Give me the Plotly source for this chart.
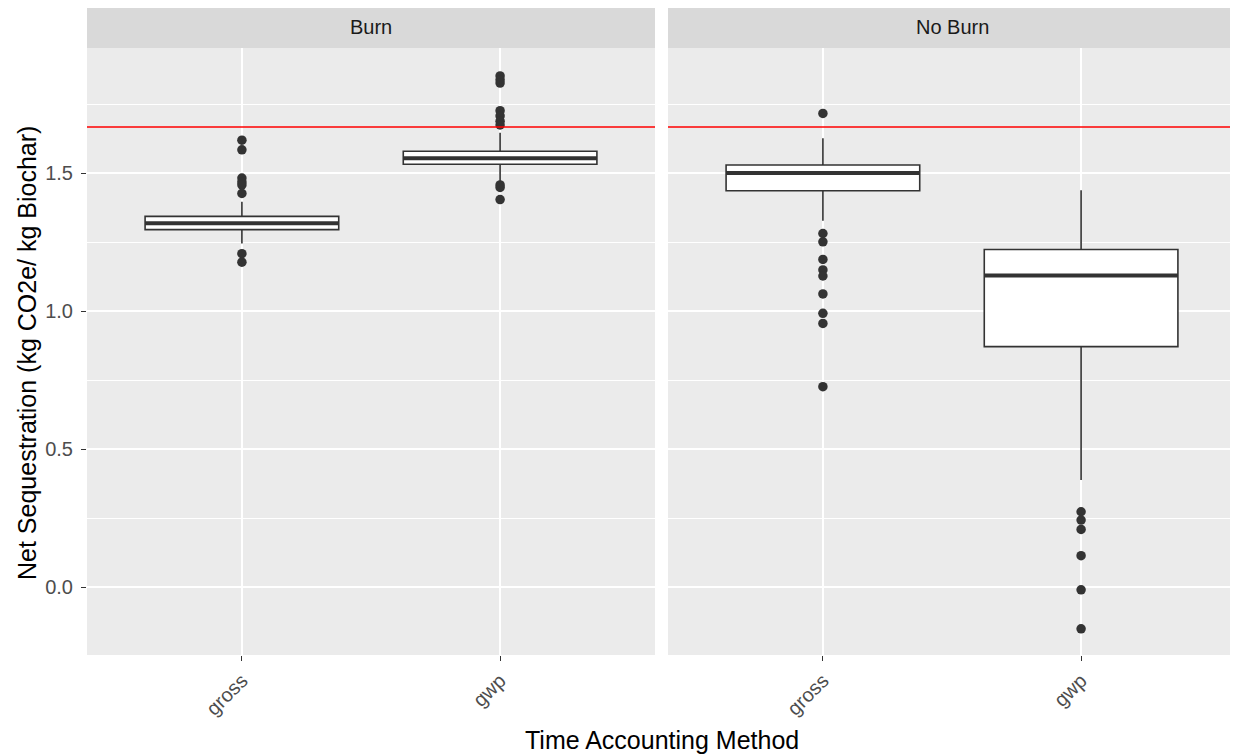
import plotly.graph_objects as go

# ---------------- data ----------------
FACETS = ["Burn", "No Burn"]
CATS = ["gross", "gwp"]
CAT_POS = [1, 2]

# box statistics per facet, per category
BURN_LOWER = [1.245, 1.469]
BURN_Q1 = [1.295, 1.532]
BURN_MEDIAN = [1.318, 1.554]
BURN_Q3 = [1.343, 1.579]
BURN_UPPER = [1.396, 1.646]

NOBURN_LOWER = [1.327, 0.388]
NOBURN_Q1 = [1.436, 0.871]
NOBURN_MEDIAN = [1.500, 1.129]
NOBURN_Q3 = [1.529, 1.223]
NOBURN_UPPER = [1.626, 1.438]

# outliers
BURN_GROSS_OUT = [1.619, 1.584, 1.482, 1.468, 1.457, 1.426, 1.208, 1.177]
BURN_GWP_OUT = [1.852, 1.838, 1.826, 1.726, 1.707, 1.688, 1.674, 1.457, 1.448, 1.404]
NOBURN_GROSS_OUT = [1.716, 1.281, 1.251, 1.187, 1.149, 1.127, 1.062, 0.992, 0.955, 0.726]
NOBURN_GWP_OUT = [0.273, 0.243, 0.209, 0.114, -0.010, -0.151]

REF_LINE = 1.667

Y_TICKS = [0.0, 0.5, 1.0, 1.5]
Y_TICK_TEXT = ["0.0", "0.5", "1.0", "1.5"]
Y_MINOR = [-0.25, 0.25, 0.75, 1.25, 1.75]

# ---------------- style ----------------
FONT = "Liberation Sans, Arial, sans-serif"
DARK = "#333333"
BOX_W = 0.75
OFF = 8  # page body margin
W, H = 1238 - OFF, 755 - OFF
ML, MT = 87 - OFF, 48 - OFF
MR = W - (1236 - OFF)
MB = H - (655 - OFF)
PW = W - ML - MR
PH = H - MT - MB
GAP = 13

fig = go.Figure()

facet_data = [
    ("x", "y", BURN_LOWER, BURN_Q1, BURN_MEDIAN, BURN_Q3, BURN_UPPER,
     [BURN_GROSS_OUT, BURN_GWP_OUT]),
    ("x2", "y2", NOBURN_LOWER, NOBURN_Q1, NOBURN_MEDIAN, NOBURN_Q3, NOBURN_UPPER,
     [NOBURN_GROSS_OUT, NOBURN_GWP_OUT]),
]

for xa, ya, lo, q1, med, q3, up, outs in facet_data:
    for i, pos in enumerate(CAT_POS):
        fig.add_trace(go.Box(
            x=[pos], q1=[q1[i]], median=[med[i]], q3=[q3[i]],
            lowerfence=[lo[i]], upperfence=[up[i]],
            width=BOX_W, whiskerwidth=0, boxpoints=False,
            fillcolor="white", line=dict(color=DARK, width=1.6),
            xaxis=xa, yaxis=ya, showlegend=False, hoverinfo="skip",
        ))
        # thick median like ggplot
        fig.add_trace(go.Scatter(
            x=[pos - BOX_W / 2, pos + BOX_W / 2], y=[med[i], med[i]],
            mode="lines", line=dict(color=DARK, width=4),
            xaxis=xa, yaxis=ya, showlegend=False, hoverinfo="skip",
        ))
        fig.add_trace(go.Scatter(
            x=[pos] * len(outs[i]), y=outs[i], mode="markers",
            marker=dict(color=DARK, size=9.5, symbol="circle"),
            xaxis=xa, yaxis=ya, showlegend=False, hoverinfo="skip",
        ))

d1 = (PW - GAP) / 2 / PW
xcommon = dict(
    range=[0.4, 2.6], tickvals=CAT_POS, ticktext=CATS,
    showgrid=True, gridcolor="white", gridwidth=1.6, zeroline=False,
    ticks="outside", ticklen=5, tickwidth=1.2, tickcolor=DARK,
    tickangle=-45, tickfont=dict(family=FONT, size=20, color="#4D4D4D"),
    showline=False, fixedrange=True,
)
ycommon = dict(
    range=[-0.246, 1.953], tickvals=Y_TICKS, ticktext=Y_TICK_TEXT,
    showgrid=True, gridcolor="white", gridwidth=1.6, zeroline=False,
    minor=dict(tickvals=Y_MINOR, showgrid=True, gridcolor="white", gridwidth=0.8, ticks=""),
    showline=False, fixedrange=True,
)

fig.update_layout(
    width=W, height=H,
    margin=dict(l=ML, r=MR, t=MT, b=MB),
    paper_bgcolor="white", plot_bgcolor="#EBEBEB",
    font=dict(family=FONT),
    xaxis=dict(domain=[0, d1], anchor="y", **xcommon),
    xaxis2=dict(domain=[1 - d1, 1], anchor="y2", **xcommon),
    yaxis=dict(anchor="x", ticks="outside", ticklen=5, tickwidth=1.2, tickcolor=DARK,
               tickfont=dict(family=FONT, size=20, color="#4D4D4D"),
               ticklabelstandoff=4, **ycommon),
    yaxis2=dict(anchor="x2", matches="y", showticklabels=False, ticks="", **ycommon),
    showlegend=False,
)

shapes = []
annotations = []
for k, (xa, facet) in enumerate(zip(["x", "x2"], FACETS)):
    shapes.append(dict(
        type="rect", xref=f"{xa} domain", yref="paper",
        x0=0, x1=1, y0=1.0, y1=1 + MT / PH,
        fillcolor="#D9D9D9", line=dict(width=0), layer="below",
    ))
    annotations.append(dict(
        text=facet, xref=f"{xa} domain", yref="paper",
        x=0.5, y=1 + (48 - 27) / PH, xanchor="center", yanchor="middle",
        showarrow=False, font=dict(family=FONT, size=20, color="#1A1A1A"),
    ))
    shapes.append(dict(
        type="line", xref=f"{xa} domain", yref="y" if xa == "x" else "y2",
        x0=0, x1=1, y0=REF_LINE, y1=REF_LINE,
        line=dict(color="#FF0000", width=1.5), layer="above",
    ))

annotations.append(dict(
    text="Time Accounting Method", xref="paper", yref="paper",
    x=0.5, y=-(740 - 655) / PH, xanchor="center", yanchor="middle",
    showarrow=False, font=dict(family=FONT, size=25, color="black"),
))
annotations.append(dict(
    text="Net Sequestration (kg CO2e/ kg Biochar)", xref="paper", yref="paper",
    x=(27 - 87) / PW, y=(655 - 353) / PH, xanchor="center", yanchor="middle",
    textangle=-90, showarrow=False, font=dict(family=FONT, size=25, color="black"),
))

fig.update_layout(shapes=shapes, annotations=annotations)
fig.write_html("out.html")
